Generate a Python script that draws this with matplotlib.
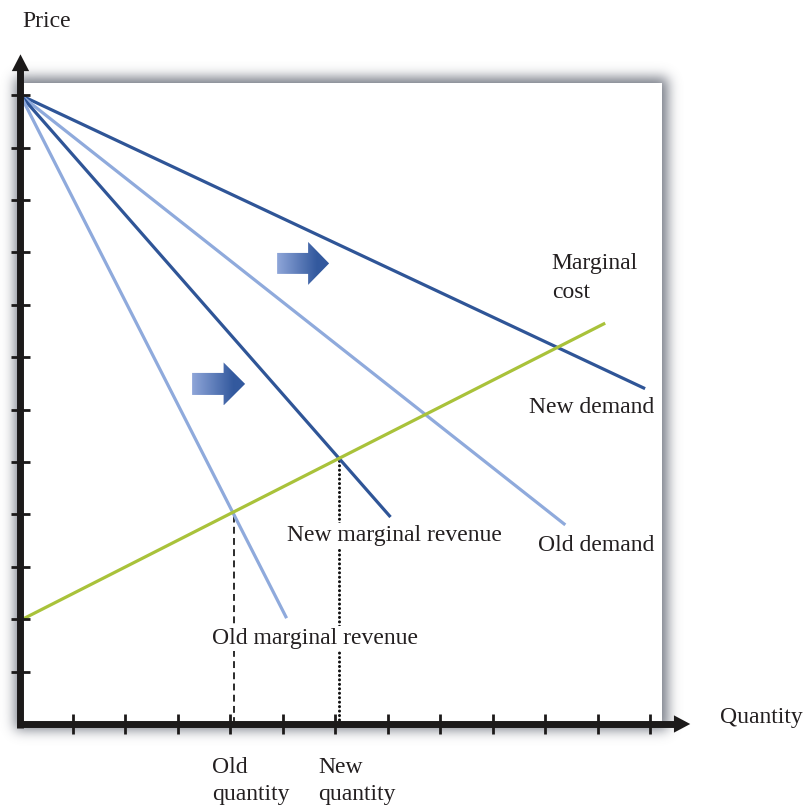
import numpy as np
import matplotlib
matplotlib.use("Agg")
import matplotlib.pyplot as plt
from matplotlib.patches import Rectangle, Polygon

# ---------------- data (in tick units) ----------------
new_demand_q = [0, 11.9]
new_demand_p = [12, 6.4]
old_demand_q = [0, 10.38]
old_demand_p = [12, 3.8]
new_mr_q = [0, 7.05]
new_mr_p = [12, 3.95]
old_mr_q = [0, 5.07]
old_mr_p = [12, 2.02]
mc_q = [0, 11.14]
mc_p = [1.98, 7.65]
old_quantity, old_price = 4.06, 4.05
new_quantity, new_price = 6.06, 5.1
x_ticks = list(range(1, 13))
y_ticks = list(range(1, 13))

# ---------------- styling ----------------
DARK = "#2f5597"
LIGHT = "#8faadc"
MC_COL = "#a9c23a"
FONT = ["Liberation Serif", "DejaVu Serif"]
FS = 17

fig = plt.figure(figsize=(8.12, 8.08), dpi=100)
ax = fig.add_axes([0, 0, 1, 1])
XL = (-0.39, 15.08)
YL = (-1.603, 13.817)
ax.axis("off")

box_w, box_h = 12.22, 12.23

# soft shadow around the plotting box
res = 0.02
gx = np.arange(-1.5, 14.0, res)
gy = np.arange(-1.5, 14.0, res)
X, Y = np.meshgrid(gx, gy)
pad = 0.1
mask = ((X > -pad) & (X < box_w + pad) & (Y > -pad) & (Y < box_h + pad)).astype(float)
sig = 0.12 / res
k = np.arange(-int(4 * sig), int(4 * sig) + 1)
kern = np.exp(-0.5 * (k / sig) ** 2)
kern /= kern.sum()
mask = np.apply_along_axis(lambda r: np.convolve(r, kern, mode="same"), 1, mask)
mask = np.apply_along_axis(lambda c: np.convolve(c, kern, mode="same"), 0, mask)
rgba = np.zeros(mask.shape + (4,))
rgba[..., 0] = 0.40
rgba[..., 1] = 0.42
rgba[..., 2] = 0.47
rgba[..., 3] = np.clip(mask * 0.9, 0, 1)
ax.imshow(rgba, extent=[gx[0], gx[-1] + res, gy[0], gy[-1] + res], origin="lower",
          interpolation="bilinear", zorder=0, aspect="auto")
ax.add_patch(Rectangle((0, 0), box_w, box_h, facecolor="white", edgecolor="none", zorder=1))

# ---------------- curves ----------------
lw = 2.3
ax.plot(new_demand_q, new_demand_p, color=DARK, lw=lw, zorder=3, solid_capstyle="butt")
ax.plot(old_demand_q, old_demand_p, color=LIGHT, lw=lw, zorder=3, solid_capstyle="butt")
ax.plot(new_mr_q, new_mr_p, color=DARK, lw=lw, zorder=3, solid_capstyle="butt")
ax.plot(old_mr_q, old_mr_p, color=LIGHT, lw=lw, zorder=3, solid_capstyle="butt")
ax.plot(mc_q, mc_p, color=MC_COL, lw=lw, zorder=3, solid_capstyle="butt")

ax.plot([old_quantity, old_quantity], [0, old_price], color="#1a1a1a", lw=1.3,
        ls=(0, (3.8, 2.4)), zorder=2)
ax.plot([new_quantity, new_quantity], [0, new_price], color="#111111", lw=2.2,
        ls=(0, (0.01, 1.45)), zorder=2, dash_capstyle="round")

# ---------------- axes with arrows ----------------
AX_COL = "#1c1a1a"
ax.plot([-0.07, 12.5], [0, 0], color=AX_COL, lw=5.0, zorder=5, solid_capstyle="butt")
ax.plot([0, 0], [-0.07, 12.5], color=AX_COL, lw=5.0, zorder=5, solid_capstyle="butt")
ax.add_patch(Polygon([[12.45, 0.165], [12.76, 0], [12.45, -0.165]], closed=True,
                     facecolor=AX_COL, edgecolor="none", zorder=5))
ax.add_patch(Polygon([[-0.165, 12.46], [0, 12.78], [0.165, 12.46]], closed=True,
                     facecolor=AX_COL, edgecolor="none", zorder=5))
for t in x_ticks:
    ax.plot([t, t], [-0.19, 0.19], color=AX_COL, lw=2.0, zorder=5, solid_capstyle="butt")
for t in y_ticks:
    ax.plot([-0.18, 0.18], [t, t], color=AX_COL, lw=2.0, zorder=5, solid_capstyle="butt")

# ---------------- gradient block arrows ----------------
def block_arrow(x0, yc, body_len, head_len, body_h, head_h):
    x1 = x0 + body_len
    x2 = x1 + head_len
    pts = [[x0, yc - body_h], [x1, yc - body_h], [x1, yc - head_h], [x2, yc],
           [x1, yc + head_h], [x1, yc + body_h], [x0, yc + body_h]]
    poly = Polygon(pts, closed=True, facecolor="none", edgecolor="none", zorder=4)
    ax.add_patch(poly)
    c0 = np.array([0.56, 0.65, 0.85])
    c1 = np.array([0.20, 0.35, 0.62])
    t = np.linspace(0, 1, 200)
    t = np.clip(t * 1.3, 0, 1)
    grad = (c0[None, :] * (1 - t[:, None]) + c1[None, :] * t[:, None])[None, :, :]
    im = ax.imshow(grad, extent=[x0, x2, yc - head_h, yc + head_h], aspect="auto",
                   zorder=4, interpolation="bilinear")
    im.set_clip_path(poly)

block_arrow(4.89, 8.79, 0.59, 0.4, 0.2, 0.41)
block_arrow(3.27, 6.49, 0.6, 0.41, 0.21, 0.41)
ax.set_xlim(*XL)
ax.set_ylim(*YL)

# ---------------- texts ----------------
def lab(x, y, s, **kw):
    ax.text(x, y, s, fontsize=FS, family=FONT, color="#231f20", zorder=6, **kw)

bb = dict(facecolor="white", edgecolor="none", pad=1.5)
lab(0.03, 13.3, "Price", va="baseline", ha="left")
lab(13.33, 0.02, "Quantity", va="baseline", ha="left")
lab(3.65, -0.93, "Old", va="baseline", ha="left")
lab(3.65, -1.45, "quantity", va="baseline", ha="left")
lab(5.67, -0.93, "New", va="baseline", ha="left")
lab(5.67, -1.45, "quantity", va="baseline", ha="left")
lab(3.65, 1.53, "Old marginal revenue", va="baseline", ha="left", bbox=bb)
lab(5.08, 3.49, "New marginal revenue", va="baseline", ha="left", bbox=bb)
lab(9.86, 3.31, "Old demand", va="baseline", ha="left")
lab(9.69, 5.93, "New demand", va="baseline", ha="left")
lab(10.12, 8.68, "Marginal", va="baseline", ha="left")
lab(10.12, 8.13, "cost", va="baseline", ha="left")

fig.savefig("out.png", dpi=100)
